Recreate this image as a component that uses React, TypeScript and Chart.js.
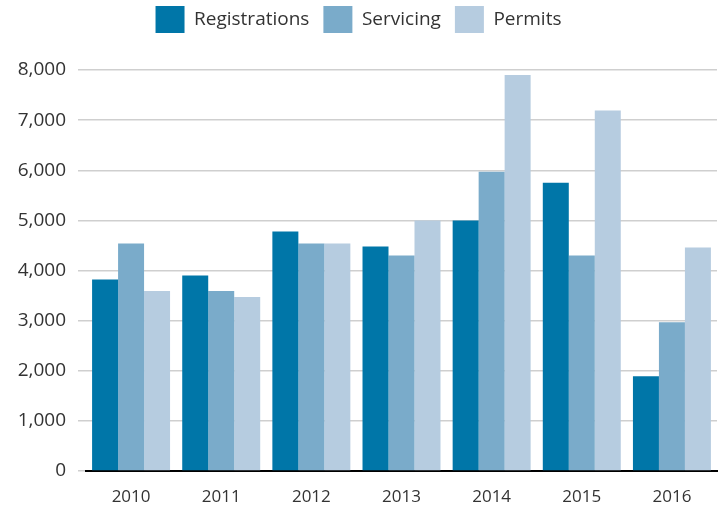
import React, { useEffect, useRef } from "react";
import { Chart, registerables } from "chart.js";

Chart.register(...registerables);

const categories = ["2010", "2011", "2012", "2013", "2014", "2015", "2016"];
const registrations = [3820, 3900, 4780, 4480, 5000, 5750, 1890];
const servicing = [4540, 3590, 4540, 4300, 5970, 4300, 2970];
const permits = [3590, 3470, 4540, 5000, 7900, 7190, 4460];
const yTicks = [0, 1000, 2000, 3000, 4000, 5000, 6000, 7000, 8000];

const FONT = "'Open Sans', 'Noto Sans', sans-serif";

const legendSpacer = {
  id: "legendSpacer",
  afterInit(chart: any) {
    const lg = chart.legend;
    if (!lg || lg.__patched) return;
    const orig = lg.fit.bind(lg);
    lg.fit = function () {
      orig();
      this.height += 27;
    };
    lg.__patched = true;
  },
};

export default function App() {
  const ref = useRef<HTMLCanvasElement | null>(null);
  useEffect(() => {
    if (!ref.current) return;
    const chart = new Chart(ref.current, {
      type: "bar",
      data: {
        labels: categories,
        datasets: [
          { label: "Registrations", data: registrations, backgroundColor: "#0076a8" },
          { label: "Servicing", data: servicing, backgroundColor: "#7aabca" },
          { label: "Permits", data: permits, backgroundColor: "#b6cce0" },
        ],
      },
      plugins: [legendSpacer],
      options: {
        responsive: false,
        animation: false,
        layout: { padding: { left: 0, right: 3, top: -8, bottom: 0 } },
        datasets: { bar: { categoryPercentage: 0.865, barPercentage: 1.0 } },
        plugins: {
          tooltip: { enabled: false },
          legend: {
            position: "top",
            labels: {
              boxWidth: 29,
              boxHeight: 27,
              padding: 14,
              color: "#333",
              font: { family: FONT, size: 19 },
            },
          },
        },
        scales: {
          x: {
            afterFit: (axis: any) => {
              axis.height = 39;
            },
            grid: { display: false, drawTicks: false },
            border: { display: true, color: "#000", width: 2 },
            ticks: { color: "#333", padding: 16, font: { family: FONT, size: 17 } },
          },
          y: {
            min: 0,
            max: 8000,
            afterFit: (axis: any) => {
              axis.width = 86;
            },
            afterBuildTicks: (axis: any) => {
              axis.ticks = yTicks.map((v) => ({ value: v }));
            },
            grid: { color: "#cfcfcf", lineWidth: 1.5, tickLength: 8 },
            border: { display: false },
            ticks: {
              color: "#333",
              padding: 12,
              font: { family: FONT, size: 19 },
              callback: (v: any) => Number(v).toLocaleString("en-US"),
            },
          },
        },
      },
    });
    return () => chart.destroy();
  }, []);
  return (
    <div style={{ position: "fixed", left: 0, top: 0, width: 720, height: 510 }}>
      <canvas ref={ref} width={720} height={510} />
    </div>
  );
}
